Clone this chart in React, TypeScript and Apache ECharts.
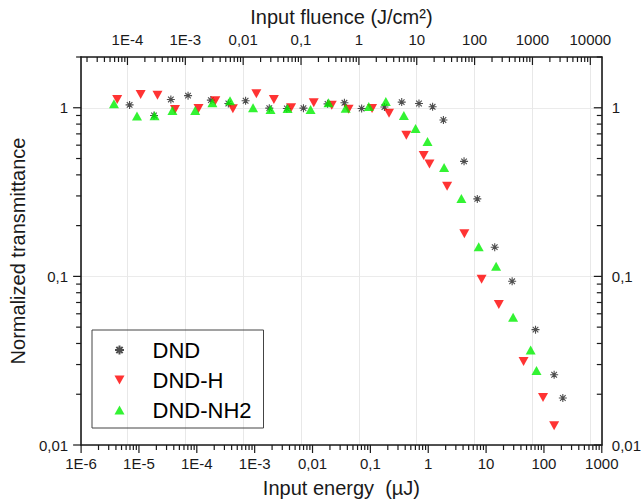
import React, { useEffect, useRef } from "react";
import * as echarts from "echarts";

// ---------- data ----------
const seriesNames = ["DND", "DND-H", "DND-NH2"];

const energyDND = [6.89e-6, 1.82e-5, 3.56e-5, 7.06e-5, 1.75e-4, 3.51e-4, 6.97e-4, 1.79e-3, 3.6e-3, 6.97e-3, 0.0182, 0.0356, 0.0706, 0.175, 0.348, 0.692, 1.19, 1.83, 4.16, 7.05, 14.1, 28.2, 71.5, 150, 212];
const transDND = [1.04, 0.9, 1.12, 1.18, 1.11, 1.06, 1.1, 0.995, 0.99, 0.995, 1.055, 1.07, 0.99, 1.01, 1.08, 1.06, 1.013, 0.846, 0.481, 0.288, 0.149, 0.0935, 0.0483, 0.0261, 0.019];

const energyH = [4.21e-6, 1.07e-5, 2.09e-5, 4.2e-5, 1.07e-4, 2.09e-4, 4.2e-4, 1.07e-3, 2.15e-3, 4.26e-3, 0.0105, 0.0215, 0.042, 0.107, 0.21, 0.418, 0.834, 1.05, 2.12, 4.21, 8.36, 16.6, 44.4, 96.4, 150];
const transH = [1.118, 1.2, 1.185, 0.977, 0.99, 1.1, 0.987, 1.21, 1.118, 1.0, 1.07, 1.036, 0.981, 0.99, 0.929, 0.686, 0.521, 0.464, 0.342, 0.179, 0.096, 0.068, 0.0313, 0.0191, 0.013];

const energyNH2 = [3.7e-6, 9.25e-6, 1.86e-5, 3.79e-5, 9.38e-5, 1.86e-4, 3.75e-4, 9.38e-4, 1.88e-3, 3.7e-3, 9.25e-3, 0.0189, 0.0374, 0.0938, 0.185, 0.379, 0.604, 0.972, 1.88, 3.74, 7.45, 14.9, 29.3, 58.9, 74.3];
const transNH2 = [1.055, 0.893, 0.898, 0.964, 0.964, 1.07, 1.1, 1.0, 0.977, 0.99, 0.977, 1.07, 0.995, 1.018, 1.088, 0.9, 0.754, 0.631, 0.443, 0.29, 0.15, 0.115, 0.0573, 0.0366, 0.0277];

const energyTickLabels = ["1E-6", "1E-5", "1E-4", "1E-3", "0,01", "0,1", "1", "10", "100", "1000"];
const fluenceTickLabels = ["1E-4", "1E-3", "0,01", "0,1", "1", "10", "100", "1000", "10000"];
const transmittanceTickLabels = ["0,01", "0,1", "1"];

const ENERGY_MIN = 1e-6;
const ENERGY_MAX = 1000;
const FLUENCE_PER_ENERGY = 15.8; // J/cm² per µJ
const T_MIN = 0.01;
const T_MAX = 2;

// ---------- helpers ----------
const FONT = "'Liberation Sans', Arial, sans-serif";

function decadeFormatter(labels: string[], firstExp: number) {
  return (v: number) => {
    const l = Math.log10(v);
    const e = Math.round(l);
    if (Math.abs(l - e) > 1e-6) return "";
    return labels[e - firstExp] ?? "";
  };
}

// tick marks (1..9 × 10^n) inside an axis range; code tells where/how to draw
function tickMarks(min: number, max: number, fixed: number, code: number, swap: boolean) {
  const out: number[][] = [];
  const e0 = Math.floor(Math.log10(min)) - 1;
  const e1 = Math.ceil(Math.log10(max)) + 1;
  for (let e = e0; e <= e1; e++) {
    for (let k = 1; k <= 9; k++) {
      const v = k * Math.pow(10, e);
      if (v >= min * 0.9999 && v <= max * 1.0001) {
        const major = k === 1 ? 1 : 0;
        out.push(swap ? [fixed, v, code, major] : [v, fixed, code, major]);
      }
    }
  }
  return out;
}

const symbolAsterisk = "path://M5,0 L5,10 M0,5 L10,5 M1.5,1.5 L8.5,8.5 M1.5,8.5 L8.5,1.5";
const symbolTriDown = "path://M0,0 L10,0 L5,9 Z";
const symbolTriUp = "path://M5,0 L10,9 L0,9 Z";

export default function App() {
  const ref = useRef<HTMLDivElement>(null);

  useEffect(() => {
    if (!ref.current) return;
    const chart = echarts.init(ref.current, undefined, { renderer: "svg" });

    const FMIN = ENERGY_MIN * FLUENCE_PER_ENERGY;
    const FMAX = ENERGY_MAX * FLUENCE_PER_ENERGY;

    const ticksMain = [
      ...tickMarks(ENERGY_MIN, ENERGY_MAX, T_MIN, 0, false), // bottom, outside
      ...tickMarks(T_MIN, T_MAX, ENERGY_MIN, 1, true), // left, outside
      ...tickMarks(T_MIN, T_MAX, ENERGY_MAX, 2, true), // right, inside
    ];
    const ticksTop = tickMarks(FMIN, FMAX, T_MAX, 3, false); // top, inside

    const renderTick = (_params: any, api: any) => {
      const code = api.value(2);
      const major = api.value(3) === 1;
      const len = major ? 8 : 5;
      const p = api.coord([api.value(0), api.value(1)]);
      let x2 = p[0];
      let y2 = p[1];
      if (code === 0) y2 += len;
      else if (code === 1) x2 -= len;
      else if (code === 2) x2 -= len;
      else y2 += len;
      return {
        type: "line",
        shape: { x1: p[0], y1: p[1], x2, y2 },
        style: { stroke: "#1a1a1a", lineWidth: 1.2 },
      };
    };

    const axisLine = { show: true, lineStyle: { color: "#1a1a1a", width: 1.6 } };
    const labelStyle = { color: "#1a1a1a", fontSize: 15, fontFamily: FONT };
    const nameStyle = { color: "#1a1a1a", fontSize: 20, fontFamily: FONT };

    chart.setOption({
      animation: false,
      backgroundColor: "#ffffff",
      grid: { left: 73, right: 37, top: 57, bottom: 53, containLabel: false },
      legend: {
        orient: "vertical",
        left: 92,
        top: 330,
        data: seriesNames,
        itemWidth: 56,
        itemHeight: 9,
        itemGap: 8,
        padding: [9, 12, 7, 22],
        borderColor: "#444",
        borderWidth: 1,
        selectedMode: false,
        symbolKeepAspect: true,
        textStyle: { color: "#000", fontSize: 22, fontFamily: FONT },
      },
      xAxis: [
        {
          type: "log",
          position: "bottom",
          min: ENERGY_MIN,
          max: ENERGY_MAX,
          logBase: 10,
          name: "Input energy  (µJ)",
          nameLocation: "middle",
          nameGap: 33,
          nameTextStyle: nameStyle,
          axisLine,
          axisTick: { show: false },
          splitLine: { show: false },
          axisLabel: { ...labelStyle, margin: 11, formatter: decadeFormatter(energyTickLabels, -6), showMinLabel: true, showMaxLabel: true },
        },
        {
          type: "log",
          position: "top",
          min: FMIN,
          max: FMAX,
          logBase: 10,
          name: "Input fluence (J/cm²)",
          nameLocation: "middle",
          nameGap: 27,
          nameTextStyle: nameStyle,
          axisLine,
          axisTick: { show: false },
          splitLine: { show: true, lineStyle: { color: "#e8e8e8", width: 1 } },
          axisLabel: { ...labelStyle, margin: 10, formatter: decadeFormatter(fluenceTickLabels, -4) },
        },
      ],
      yAxis: [
        {
          type: "log",
          position: "left",
          min: T_MIN,
          max: T_MAX,
          logBase: 10,
          name: "Normalized transmittance",
          nameLocation: "middle",
          nameGap: 35,
          nameTextStyle: nameStyle,
          axisLine,
          axisTick: { show: false },
          splitLine: { show: true, lineStyle: { color: "#ebebeb", width: 1 } },
          axisLabel: { ...labelStyle, margin: 13, formatter: decadeFormatter(transmittanceTickLabels, -2) },
        },
        {
          type: "log",
          position: "right",
          min: T_MIN,
          max: T_MAX,
          logBase: 10,
          axisLine,
          axisTick: { show: false },
          splitLine: { show: false },
          axisLabel: { ...labelStyle, margin: 10, formatter: decadeFormatter(transmittanceTickLabels, -2) },
        },
      ],
      series: [
        {
          name: "DND",
          type: "scatter",
          xAxisIndex: 0,
          yAxisIndex: 0,
          symbol: symbolAsterisk,
          symbolSize: 8,
          itemStyle: { color: "#222", borderColor: "#222", borderWidth: 1.1 },
          data: energyDND.map((e, i) => [e, transDND[i]]),
          z: 3,
        },
        {
          name: "DND-H",
          type: "scatter",
          xAxisIndex: 0,
          yAxisIndex: 0,
          symbol: symbolTriDown,
          symbolSize: [10, 9],
          itemStyle: { color: "#ff0000" },
          data: energyH.map((e, i) => [e, transH[i]]),
          z: 4,
        },
        {
          name: "DND-NH2",
          type: "scatter",
          xAxisIndex: 0,
          yAxisIndex: 0,
          symbol: symbolTriUp,
          symbolSize: [10, 9],
          itemStyle: { color: "#00f000" },
          data: energyNH2.map((e, i) => [e, transNH2[i]]),
          z: 5,
        },
        {
          name: "ticks",
          type: "custom",
          xAxisIndex: 0,
          yAxisIndex: 0,
          silent: true,
          clip: false,
          renderItem: renderTick,
          encode: { x: 0, y: 1 },
          data: ticksMain,
          z: 10,
        },
        {
          name: "ticksTop",
          type: "custom",
          xAxisIndex: 1,
          yAxisIndex: 0,
          silent: true,
          clip: false,
          renderItem: renderTick,
          encode: { x: 0, y: 1 },
          data: ticksTop,
          z: 10,
        },
      ],
    });

    return () => chart.dispose();
  }, []);

  return (
    <div
      ref={ref}
      style={{ position: "absolute", left: 0, top: 0, width: 644, height: 503, background: "#fff" }}
    />
  );
}
